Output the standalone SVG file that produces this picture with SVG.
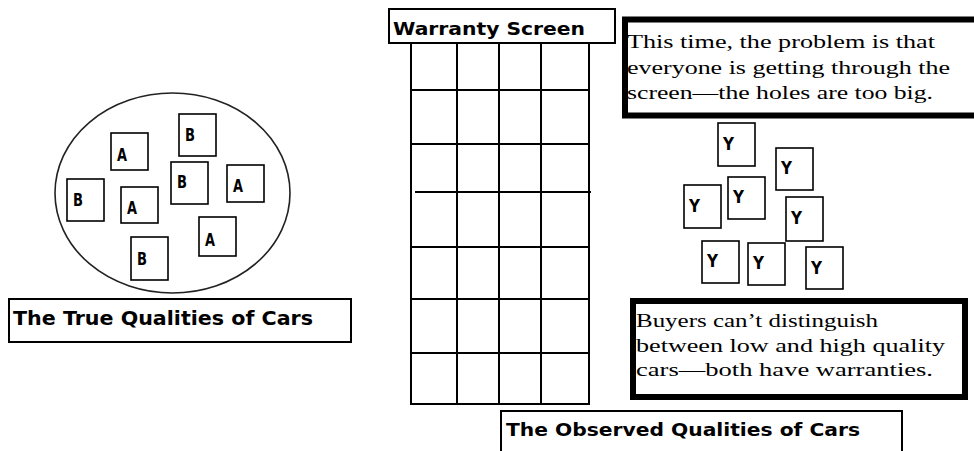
<svg xmlns="http://www.w3.org/2000/svg" width="974" height="451" viewBox="0 0 974 451">
<style>
.bg{fill:#fff}
.box{fill:#fff;stroke:#000;stroke-width:2}
.card{fill:#fff;stroke:#000;stroke-width:1.6}
.grid{stroke:#000;stroke-width:2;fill:none}
.thick{fill:#fff;stroke:#000;stroke-width:6}
.lbl{font-family:"DejaVu Sans",sans-serif;font-weight:bold;fill:#000}
.ltr{font-family:"DejaVu Sans",sans-serif;font-weight:bold;font-size:17px;fill:#000}
.ser{font-family:"Liberation Serif","DejaVu Serif",serif;font-size:19px;fill:#000}
</style>
<rect class="bg" x="0" y="0" width="974" height="451"/>

<g id="true-qualities-set">
  <ellipse cx="172.5" cy="193" rx="117.5" ry="100" fill="none" stroke="#222" stroke-width="1.6"/>
  <g id="card-b1"><rect class="card" x="179" y="114" width="37" height="42"/><text class="ltr" x="185" y="141" textLength="10" lengthAdjust="spacingAndGlyphs">B</text></g>
  <g id="card-a1"><rect class="card" x="111" y="133" width="37" height="37"/><text class="ltr" x="117" y="161" textLength="10" lengthAdjust="spacingAndGlyphs">A</text></g>
  <g id="card-b2"><rect class="card" x="171" y="162" width="37" height="42"/><text class="ltr" x="177" y="188" textLength="10" lengthAdjust="spacingAndGlyphs">B</text></g>
  <g id="card-a2"><rect class="card" x="227" y="165" width="37" height="37"/><text class="ltr" x="233" y="192" textLength="10" lengthAdjust="spacingAndGlyphs">A</text></g>
  <g id="card-b3"><rect class="card" x="67" y="179" width="37" height="42"/><text class="ltr" x="73" y="206" textLength="10" lengthAdjust="spacingAndGlyphs">B</text></g>
  <g id="card-a3"><rect class="card" x="121" y="187" width="37" height="36"/><text class="ltr" x="127" y="214" textLength="10" lengthAdjust="spacingAndGlyphs">A</text></g>
  <g id="card-a4"><rect class="card" x="199" y="217" width="37" height="39"/><text class="ltr" x="205" y="246" textLength="10" lengthAdjust="spacingAndGlyphs">A</text></g>
  <g id="card-b4"><rect class="card" x="131" y="237" width="37" height="43"/><text class="ltr" x="137" y="265" textLength="10" lengthAdjust="spacingAndGlyphs">B</text></g>
</g>

<g id="true-qualities-label">
  <rect class="box" x="9" y="299" width="342" height="43"/>
  <text class="lbl" x="13" y="325" font-size="19" textLength="300" lengthAdjust="spacingAndGlyphs">The True Qualities of Cars</text>
</g>

<g id="warranty-screen">
  <g class="grid">
    <line x1="411" y1="43" x2="411" y2="405"/>
    <line x1="457" y1="43" x2="457" y2="405"/>
    <line x1="499" y1="43" x2="499" y2="405"/>
    <line x1="541" y1="43" x2="541" y2="405"/>
    <line x1="589" y1="43" x2="589" y2="405"/>
    <line x1="411" y1="90" x2="589" y2="90"/>
    <line x1="411" y1="144" x2="589" y2="144"/>
    <line x1="415" y1="192" x2="591" y2="192"/>
    <line x1="411" y1="247" x2="589" y2="247"/>
    <line x1="411" y1="299" x2="589" y2="299"/>
    <line x1="411" y1="353" x2="589" y2="353"/>
    <line x1="410" y1="404" x2="590" y2="404"/>
  </g>
  <rect class="box" x="389" y="9" width="226" height="34"/>
  <text class="lbl" x="393" y="35" font-size="17" textLength="192" lengthAdjust="spacingAndGlyphs">Warranty Screen</text>
</g>

<g id="note-problem">
  <rect class="thick" x="625" y="19.5" width="360" height="96" stroke-width="5"/>
  <text class="ser" x="627" y="48" textLength="308" lengthAdjust="spacingAndGlyphs">This time, the problem is that</text>
  <text class="ser" x="627" y="74" textLength="323" lengthAdjust="spacingAndGlyphs">everyone is getting through the</text>
  <text class="ser" x="627" y="99" textLength="306" lengthAdjust="spacingAndGlyphs">screen—the holes are too big.</text>
</g>

<g id="observed-set">
  <g id="card-y1"><rect class="card" x="718" y="123" width="37" height="43"/><text class="ltr" x="723" y="150" textLength="11" lengthAdjust="spacingAndGlyphs">Y</text></g>
  <g id="card-y2"><rect class="card" x="776" y="148" width="37" height="42"/><text class="ltr" x="781" y="174" textLength="11" lengthAdjust="spacingAndGlyphs">Y</text></g>
  <g id="card-y3"><rect class="card" x="684" y="185" width="37" height="43"/><text class="ltr" x="689" y="212" textLength="11" lengthAdjust="spacingAndGlyphs">Y</text></g>
  <g id="card-y4"><rect class="card" x="728" y="177" width="37" height="42"/><text class="ltr" x="733" y="203" textLength="11" lengthAdjust="spacingAndGlyphs">Y</text></g>
  <g id="card-y5"><rect class="card" x="786" y="197" width="37" height="44"/><text class="ltr" x="791" y="224" textLength="11" lengthAdjust="spacingAndGlyphs">Y</text></g>
  <g id="card-y6"><rect class="card" x="702" y="241" width="37" height="42"/><text class="ltr" x="707" y="267" textLength="11" lengthAdjust="spacingAndGlyphs">Y</text></g>
  <g id="card-y7"><rect class="card" x="748" y="243" width="37" height="42"/><text class="ltr" x="753" y="269" textLength="11" lengthAdjust="spacingAndGlyphs">Y</text></g>
  <g id="card-y8"><rect class="card" x="806" y="247" width="37" height="42"/><text class="ltr" x="811" y="274" textLength="11" lengthAdjust="spacingAndGlyphs">Y</text></g>
</g>

<g id="note-buyers">
  <rect class="thick" x="633" y="301" width="332" height="96"/>
  <text class="ser" x="636" y="327" textLength="242" lengthAdjust="spacingAndGlyphs">Buyers can’t distinguish</text>
  <text class="ser" x="636" y="352" textLength="309" lengthAdjust="spacingAndGlyphs">between low and high quality</text>
  <text class="ser" x="636" y="376" textLength="297" lengthAdjust="spacingAndGlyphs">cars—both have warranties.</text>
</g>

<g id="observed-label">
  <rect class="box" x="501" y="411" width="401" height="50"/>
  <text class="lbl" x="506" y="436" font-size="18" textLength="354" lengthAdjust="spacingAndGlyphs">The Observed Qualities of Cars</text>
</g>
</svg>
